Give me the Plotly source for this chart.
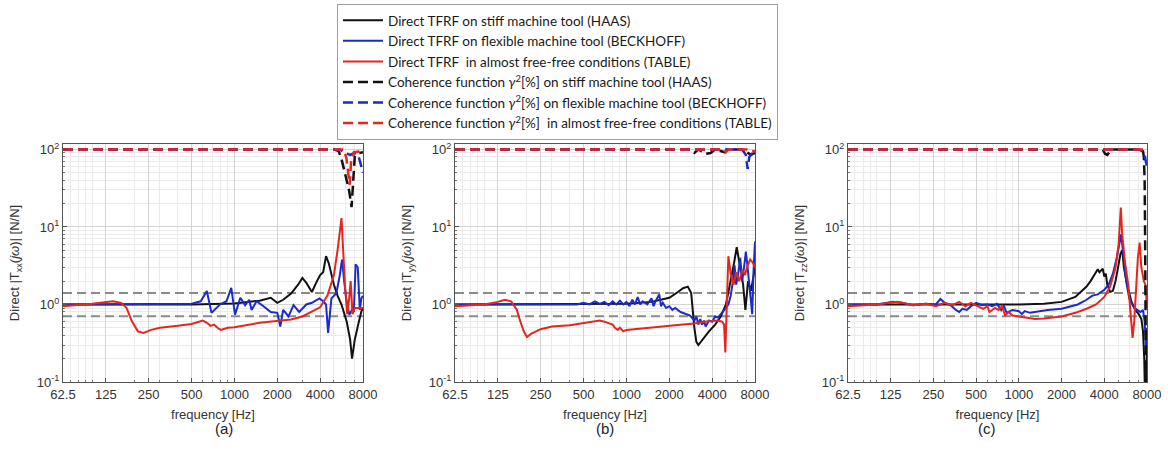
import plotly.graph_objects as go
from plotly.subplots import make_subplots

# ---- frequency axis ticks
freq_ticks = [62.5, 125, 250, 500, 1000, 2000, 4000, 8000]
freq_ticktext = ["62.5", "125", "250", "500", "1000", "2000", "4000", "8000"]
freq_minor = [70, 80, 90, 100, 200, 300, 400, 500, 600, 700, 800, 900,
              1000, 2000, 3000, 4000, 5000, 6000, 7000]
mag_ticks = [0.1, 1, 10, 100]
mag_ticktext = ["10<sup>-1</sup>", "10<sup>0</sup>", "10<sup>1</sup>", "10<sup>2</sup>"]
mag_minor = [0.2, 0.3, 0.4, 0.5, 0.6, 0.7, 0.8, 0.9, 2, 3, 4, 5, 6, 7, 8, 9,
             20, 30, 40, 50, 60, 70, 80, 90]

# +/-3 dB reference lines
band_f = [62.5, 8000]
band_hi = [1.41, 1.41]
band_lo = [0.707, 0.707]

# ---- (a) Txx
a_haas_f = [62.5, 250, 500, 1000, 1250, 1500, 1800, 2000, 2200, 2500, 2800, 3000, 3200, 3500, 3800,
            4000, 4200, 4400, 4600, 4800, 5000, 5300, 5650, 6150, 6500, 6700, 7000, 7400, 7800, 8000]
a_haas = [1.0, 1.0, 1.0, 1.03, 1.08, 1.12, 1.22, 1.05, 1.15, 1.38, 1.8, 2.2, 1.9, 1.45, 2.0,
          2.4, 2.6, 4.2, 3.4, 2.4, 1.8, 1.3, 1.0, 0.6, 0.35, 0.2, 0.35, 0.55, 0.82, 0.9]
a_beck_f = [62.5, 300, 500, 580, 640, 690, 790, 880, 950, 1010, 1100, 1190, 1270, 1320, 1430, 1600,
            1800, 2000, 2100, 2200, 2400, 2600, 2850, 3200, 3500, 3950, 4200, 4400, 4550, 4800, 5200,
            5500, 5700, 5900, 6100, 6400, 6700, 6900, 7100, 7350, 7600, 7800, 8000]
a_beck = [1.0, 1.0, 1.02, 1.1, 1.49, 0.78, 1.0, 1.1, 1.64, 0.74, 1.22, 0.98, 1.15, 0.85, 1.1, 0.95,
          0.8, 0.78, 0.52, 0.85, 0.7, 0.98, 0.8, 1.0, 1.05, 1.2, 1.1, 1.0, 0.43, 1.2, 1.4,
          2.4, 3.8, 2.0, 1.2, 0.74, 0.85, 0.8, 3.3, 3.0, 0.85, 1.2, 1.3]
a_table_f = [62.5, 100, 140, 160, 175, 190, 210, 230, 260, 300, 400, 500, 600, 640, 680, 720, 760,
             800, 900, 1000, 1500, 2000, 2500, 3000, 3500, 4000, 4500, 5000, 5300, 5650, 5990, 6200,
             6400, 6550, 6750, 7000, 7450, 8000]
a_table = [0.95, 1.02, 1.1, 1.05, 0.9, 0.61, 0.45, 0.43, 0.47, 0.5, 0.53, 0.56, 0.62, 0.58, 0.53,
           0.55, 0.5, 0.47, 0.5, 0.51, 0.58, 0.62, 0.64, 0.7, 0.8, 0.92, 1.3, 2.4, 5.0, 13.0, 1.64,
           0.75, 1.2, 2.0, 0.75, 0.9, 0.9, 0.9]
a_coh_haas_f = [62.5, 5000, 5400, 5650, 6000, 6400, 6650, 6800, 7000, 7500, 8000]
a_coh_haas = [100, 100, 95, 75, 48, 29, 18, 40, 80, 90, 92]
a_coh_beck_f = [62.5, 5500, 6000, 6500, 7000, 7400, 7700, 8000]
a_coh_beck = [100, 100, 90, 85, 90, 85, 65, 50]
a_coh_table_f = [62.5, 5800, 6100, 6300, 6450, 6600, 6900, 8000]
a_coh_table = [100, 100, 80, 50, 35, 70, 92, 95]

# ---- (b) Tyy
b_haas_f = [62.5, 500, 1000, 1500, 2000, 2300, 2500, 2700, 2850, 3000, 3100, 3200, 3400, 3800,
            4200, 4600, 5000, 5400, 5700, 5950, 6300, 6600, 6850, 7150, 7500, 7800, 8000]
b_haas = [1.0, 1.0, 1.02, 1.08, 1.22, 1.45, 1.62, 1.7, 1.4, 0.5, 0.33, 0.3, 0.35, 0.45,
          0.55, 0.7, 1.0, 2.0, 3.4, 5.5, 3.0, 1.8, 0.85, 2.0, 1.5, 2.5, 3.0]
b_beck_f = [62.5, 450, 500, 550, 600, 650, 700, 750, 800, 850, 900, 950, 1000, 1050, 1100, 1150,
            1200, 1250, 1300, 1400, 1500, 1550, 1600, 1700, 1750, 1800, 1900, 2000, 2100, 2200,
            2400, 2600, 2800, 3000, 3100, 3200, 3300, 3400, 3500, 3600, 3800, 4000, 4200, 4400,
            4600, 4800, 5000, 5200, 5400, 5600, 5750, 5900, 6100, 6300, 6500, 6700, 6900, 7100,
            7300, 7500, 7650, 7800, 7950, 8000]
b_beck = [1.0, 1.0, 1.05, 1.0, 1.1, 1.02, 1.08, 0.98, 1.1, 1.0, 1.12, 1.0, 1.08, 0.95, 1.15, 1.0,
          1.25, 1.0, 1.1, 1.0, 1.2, 0.95, 1.1, 1.35, 0.95, 1.05, 0.9, 0.95, 0.85, 0.9,
          0.8, 0.75, 0.72, 0.62, 0.7, 0.55, 0.65, 0.55, 0.62, 0.52, 0.62, 0.6, 0.7, 0.68,
          0.75, 0.8, 0.9, 1.0, 1.3, 2.0, 3.2, 1.8, 2.5, 4.0, 2.0, 3.0, 4.8, 3.0,
          1.8, 1.2, 0.75, 2.5, 5.0, 6.5]
b_table_f = [62.5, 100, 125, 140, 155, 170, 180, 190, 200, 215, 250, 300, 400, 500, 600, 650, 700,
             750, 800, 830, 870, 900, 950, 1000, 1500, 2000, 2500, 3000, 3500, 4000, 4400, 4700,
             4850, 4950, 5050, 5200, 5400, 5650, 5900, 6200, 6500, 6800, 7100, 7400, 7700, 8000]
b_table = [0.95, 1.0, 1.08, 1.15, 1.1, 0.85, 0.6, 0.45, 0.38, 0.42, 0.48, 0.52, 0.54, 0.57, 0.6,
           0.62, 0.6, 0.58, 0.55, 0.5, 0.47, 0.5, 0.45, 0.47, 0.5, 0.52, 0.55, 0.57, 0.6, 0.61,
           0.62, 0.6, 0.55, 0.24, 0.7, 4.2, 2.5, 1.8, 2.6, 2.0, 2.8, 2.4, 3.2, 3.8, 3.5, 3.0]
b_coh_haas_f = [62.5, 2800, 3000, 3200, 3600, 3900, 4200, 4900, 5100, 5400, 6500, 7000, 7500, 8000]
b_coh_haas = [100, 100, 90, 100, 88, 90, 100, 92, 100, 100, 100, 92, 85, 90]
b_coh_beck_f = [62.5, 6500, 6900, 7100, 7300, 7600, 8000]
b_coh_beck = [100, 100, 85, 56, 80, 88, 92]
b_coh_table_f = [62.5, 4800, 5000, 5200, 7000, 7500, 8000]
b_coh_table = [100, 100, 92, 100, 100, 95, 95]

# ---- (c) Tzz
c_haas_f = [62.5, 250, 500, 1000, 1500, 2000, 2500, 2800, 3000, 3200, 3400, 3600, 3700, 3800, 3900,
            4000, 4100, 4200, 4400, 4600, 4800, 5000, 5200, 5350, 5500, 5800, 6200, 6600, 7000,
            7300, 7500, 7650, 7750, 7900, 8000]
c_haas = [1.0, 1.0, 0.98, 1.0, 1.02, 1.08, 1.25, 1.5, 1.7, 2.0, 2.4, 2.85, 2.6, 2.75, 2.9,
          2.3, 2.5, 1.8, 1.45, 1.5, 2.0, 3.0, 4.5, 5.0, 3.0, 1.8, 1.1, 0.85, 0.75,
          0.65, 0.45, 0.2, 0.06, 0.08, 0.3]
c_beck_f = [62.5, 100, 130, 150, 180, 220, 260, 280, 300, 330, 360, 380, 400, 430, 460, 500, 550,
            600, 650, 700, 750, 780, 820, 900, 1000, 1050, 1100, 1200, 1400, 1600, 2000, 2300,
            2600, 3000, 3300, 3600, 4000, 4300, 4600, 4900, 5100, 5250, 5450, 5700, 6000, 6400,
            6800, 7200, 7500, 7700, 7900, 8000]
c_beck = [1.0, 1.0, 1.08, 1.05, 0.98, 1.02, 1.0, 1.18, 1.05, 0.98, 0.85, 0.8, 0.88, 0.85, 0.95,
          1.05, 0.98, 1.0, 0.95, 1.02, 0.85, 0.98, 0.78, 0.85, 0.82, 0.75, 0.82, 0.78, 0.82, 0.85,
          0.88, 0.95, 1.0, 1.15, 1.3, 1.35, 1.55, 1.8, 2.5, 4.0, 6.0, 8.0, 4.5, 2.0, 1.2, 0.95,
          0.85, 0.8, 0.85, 0.6, 0.25, 0.5]
c_table_f = [62.5, 100, 140, 180, 220, 260, 300, 340, 380, 420, 460, 500, 560, 600, 620, 680, 720,
             760, 800, 850, 900, 1000, 1200, 1300, 1500, 2000, 2500, 3000, 3500, 4000, 4400, 4800,
             5050, 5230, 5350, 5600, 5900, 6150, 6330, 6500, 6700, 6900, 7100, 7300, 7600, 7800,
             8000]
c_table = [0.95, 1.0, 1.08, 0.98, 1.02, 0.95, 1.05, 0.98, 1.08, 0.95, 1.05, 0.98, 0.88, 0.95, 0.8,
           0.9, 0.85, 0.95, 0.72, 0.8, 0.72, 0.7, 0.67, 0.65, 0.66, 0.7, 0.78, 0.88, 1.0, 1.25,
           1.7, 3.0, 6.0, 17.8, 8.0, 3.5, 1.8, 0.8, 0.37, 0.6, 1.5, 4.0, 6.3, 3.0, 2.0, 1.8,
           0.9]
c_coh_haas_f = [62.5, 3900, 4050, 4200, 4400, 4700, 7300, 7500, 7600, 7700, 7750, 7800, 7850, 8000]
c_coh_haas = [100, 100, 88, 85, 95, 100, 100, 95, 80, 40, 10, 1, 0.2, 0.05]
c_coh_beck_f = [62.5, 7000, 7400, 7700, 7850, 8000]
c_coh_beck = [100, 100, 95, 85, 70, 60]
c_coh_table_f = [62.5, 7800, 8000]
c_coh_table = [100, 100, 95]

panels = [
    dict(haas=(a_haas_f, a_haas), beck=(a_beck_f, a_beck), table=(a_table_f, a_table),
         coh_haas=(a_coh_haas_f, a_coh_haas), coh_beck=(a_coh_beck_f, a_coh_beck),
         coh_table=(a_coh_table_f, a_coh_table), sub="xx", tag="(a)"),
    dict(haas=(b_haas_f, b_haas), beck=(b_beck_f, b_beck), table=(b_table_f, b_table),
         coh_haas=(b_coh_haas_f, b_coh_haas), coh_beck=(b_coh_beck_f, b_coh_beck),
         coh_table=(b_coh_table_f, b_coh_table), sub="yy", tag="(b)"),
    dict(haas=(c_haas_f, c_haas), beck=(c_beck_f, c_beck), table=(c_table_f, c_table),
         coh_haas=(c_coh_haas_f, c_coh_haas), coh_beck=(c_coh_beck_f, c_coh_beck),
         coh_table=(c_coh_table_f, c_coh_table), sub="zz", tag="(c)"),
]

BLACK = "#111111"
BLUE = "#1b2bc8"
RED = "#e4261f"
GRAY = "#8a8a8a"

series = [
    ("haas", "Direct TFRF on stiff machine tool (HAAS)", BLACK, "solid", 2),
    ("beck", "Direct TFRF on flexible machine tool (BECKHOFF)", BLUE, "solid", 2),
    ("table", "Direct TFRF  in almost free-free conditions (TABLE)", RED, "solid", 2),
    ("coh_haas", "Coherence function <i>γ</i><sup>2</sup>[%] on stiff machine tool (HAAS)", BLACK, "10px,5px", 2.5),
    ("coh_beck", "Coherence function <i>γ</i><sup>2</sup>[%] on flexible machine tool (BECKHOFF)", BLUE, "10px,5px", 2.5),
    ("coh_table", "Coherence function <i>γ</i><sup>2</sup>[%]  in almost free-free conditions (TABLE)", RED, "10px,5px", 2.5),
]

fig = make_subplots(rows=1, cols=3)

for i, p in enumerate(panels):
    col = i + 1
    for band in (band_hi, band_lo):
        fig.add_trace(go.Scatter(x=band_f, y=band, mode="lines", showlegend=False,
                                 line=dict(color=GRAY, width=2, dash="9px,5px"),
                                 hoverinfo="skip"), row=1, col=col)
    for key, name, color, dash, lw in series:
        f, v = p[key]
        fig.add_trace(go.Scatter(x=f, y=v, mode="lines", name=name, legendgroup=key,
                                 showlegend=(i == 0),
                                 line=dict(color=color, width=lw, dash=dash)),
                      row=1, col=col)

# axis placement (pixels -> paper)
W, H = 1168, 452
x_px = [(63, 363), (455, 755), (848, 1147)]
y_dom = [1 - 382 / H, 1 - 144 / H]

tick_font = dict(family="Liberation Sans, Arial, sans-serif", size=13, color="#333333")
for i, p in enumerate(panels):
    xa = "xaxis" if i == 0 else "xaxis%d" % (i + 1)
    ya = "yaxis" if i == 0 else "yaxis%d" % (i + 1)
    fig.layout[xa].update(
        type="log", domain=[x_px[i][0] / W, x_px[i][1] / W], range=[1.79588, 3.90309],
        tickmode="array", tickvals=freq_ticks, ticktext=freq_ticktext, tickfont=tick_font,
        ticks="inside", ticklen=4, tickcolor="#555555",
        showgrid=True, gridcolor="#d4d4d4", gridwidth=1,
        minor=dict(tickmode="array", tickvals=freq_minor, showgrid=True,
                   gridcolor="#ebebeb", ticks="inside", ticklen=2, tickcolor="#777777"),
        showline=True, linecolor="#555555", linewidth=1, mirror=True,
        title=dict(text="frequency [Hz]", font=tick_font, standoff=9),
        automargin=False, zeroline=False)
    fig.layout[ya].update(
        type="log", domain=y_dom, range=[-1, 2.07],
        tickmode="array", tickvals=mag_ticks, ticktext=mag_ticktext, tickfont=tick_font,
        ticks="inside", ticklen=4, tickcolor="#555555",
        showgrid=True, gridcolor="#d4d4d4", gridwidth=1,
        minor=dict(tickmode="array", tickvals=mag_minor, showgrid=True,
                   gridcolor="#ebebeb", ticks="inside", ticklen=2, tickcolor="#777777"),
        showline=True, linecolor="#555555", linewidth=1, mirror=True,
        title=dict(text="Direct |T<sub>%s</sub>(<i>jω</i>)| [N/N]" % p["sub"],
                   font=tick_font, standoff=14),
        automargin=False, zeroline=False)
    fig.add_annotation(text=p["tag"], xref="paper", yref="paper",
                       x=(x_px[i][0] + x_px[i][1]) / 2 / W, y=1 - 428 / H, yanchor="middle",
                       showarrow=False, font=dict(family="Liberation Sans, Arial", size=15, color="#222222"))

fig.update_layout(
    width=W, height=H,
    margin=dict(l=0, r=0, t=0, b=0),
    plot_bgcolor="white", paper_bgcolor="white",
    legend=dict(x=337 / W, y=1 - 4 / H, xanchor="left", yanchor="top",
                bgcolor="white", bordercolor="#a0a0a0", borderwidth=1,
                font=dict(family="Lato, Noto Sans, sans-serif", size=13.5, color="#1a1a1a"),
                tracegroupgap=0, itemwidth=40),
    showlegend=True,
)

fig.write_html("out.html", config={"displayModeBar": False},
               post_script="document.body.style.margin='0px';")
